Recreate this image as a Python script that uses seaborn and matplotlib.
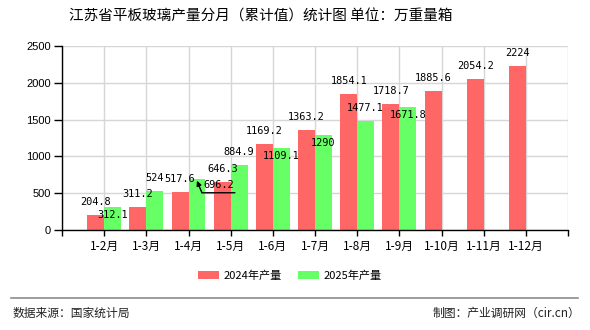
import matplotlib
matplotlib.use("Agg")
import matplotlib.pyplot as plt
from matplotlib.patches import Patch
from matplotlib.transforms import ScaledTranslation
from matplotlib.lines import Line2D
import seaborn as sns
import pandas as pd
import numpy as np

# ---- data -------------------------------------------------------------
months = ["1-2月", "1-3月", "1-4月", "1-5月", "1-6月", "1-7月",
          "1-8月", "1-9月", "1-10月", "1-11月", "1-12月"]
prod_2024 = [204.8, 311.2, 517.6, 646.3, 1169.2, 1363.2,
             1854.1, 1718.7, 1885.6, 2054.2, 2224]
prod_2025 = [312.1, 524, 696.2, 884.9, 1109.1, 1290,
             1477.1, 1671.8]
series_names = ["2024年产量", "2025年产量"]
y_ticks = [0, 500, 1000, 1500, 2000, 2500]

# where each 2025 value label sits relative to its bar top
label_place_2025 = ["below", "above", "leader", "above",
                    "below", "below", "above", "below"]

colors = {"2024年产量": "#ff6666", "2025年产量": "#66ff66"}

# ---- long-format table -----------------------------------------------
rows = []
for i, m in enumerate(months):
    rows.append({"月份": m, "系列": series_names[0], "产量": prod_2024[i]})
    v25 = prod_2025[i] if i < len(prod_2025) else np.nan
    rows.append({"月份": m, "系列": series_names[1], "产量": v25})
df = pd.DataFrame(rows)

# ---- figure ------------------------------------------------------------
plt.rcParams["font.family"] = ["Noto Sans CJK SC", "DejaVu Sans"]
W, H = 590, 330
fig = plt.figure(figsize=(W / 100, H / 100), dpi=100)
ax = fig.add_axes([62 / W, 1 - 230 / H, (568 - 62) / W, (230 - 46) / H])

sns.barplot(data=df, x="月份", y="产量", hue="系列", order=months,
            hue_order=series_names, palette=colors, width=0.8,
            saturation=1, errorbar=None, legend=False, ax=ax)

ax.set_xlim(-1, 11)
ax.set_ylim(0, 2500)
ax.set_xlabel("")
ax.set_ylabel("")

ax.set_xticks(range(-1, 12))
ax.set_xticklabels([""] + months + [""], fontsize=8.5)
ax.set_yticks(y_ticks)
ax.set_yticklabels([str(t) for t in y_ticks],
                   fontfamily=["Liberation Sans"], fontsize=8)
ax.tick_params(axis="x", length=4, width=1, color="black", pad=3)
ax.tick_params(axis="y", length=6, width=1, color="black", pad=2)

ax.set_axisbelow(True)
ax.grid(True, color="#d6d6d6", lw=1)
for s in ("top", "right"):
    ax.spines[s].set_visible(False)
for s in ("left", "bottom"):
    ax.spines[s].set_color("black")
    ax.spines[s].set_linewidth(1)


def shifted(dx, dy):
    """Data transform shifted by (dx, dy) pixels."""
    return ax.transData + ScaledTranslation(dx / 100, dy / 100,
                                            fig.dpi_scale_trans)


lab_kw = dict(fontfamily=["DejaVu Sans Mono"], fontsize=7.4,
              color="black", ha="center", va="center")

# 2024 labels: above the bars
for i, v in enumerate(prod_2024):
    ax.annotate(f"{v:g}", xy=(i - 0.2, v), xytext=(0, 13),
                textcoords="offset pixels", **lab_kw)

# 2025 labels
for i, v in enumerate(prod_2025):
    x = i + 0.2
    place = label_place_2025[i]
    if place == "above":
        ax.annotate(f"{v:g}", xy=(x, v), xytext=(0, 13),
                    textcoords="offset pixels", **lab_kw)
    elif place == "below":
        ax.annotate(f"{v:g}", xy=(x, v), xytext=(0, -8),
                    textcoords="offset pixels", **lab_kw)
    else:
        # label pushed aside with a leader line
        ax.annotate(f"{v:g}", xy=(x, v), xytext=(22, -6),
                    textcoords="offset pixels", **lab_kw)
        ax.annotate("", xy=(x, v), xycoords=shifted(0, -2),
                    xytext=(x, v), textcoords=shifted(5, -14),
                    arrowprops=dict(arrowstyle="-|>", color="black", lw=1,
                                    shrinkA=0, shrinkB=0,
                                    mutation_scale=7))
        ax.annotate("", xy=(x, v), xycoords=shifted(38, -14),
                    xytext=(x, v), textcoords=shifted(5, -14),
                    arrowprops=dict(arrowstyle="-", color="black", lw=1,
                                    shrinkA=0, shrinkB=0))

# ---- title -------------------------------------------------------------
fig.text(261 / W, 1 - 17 / H,
         "江苏省平板玻璃产量分月（累计值）统计图 单位：万重量箱",
         ha="center", va="center", fontsize=10.5, color="black")

# ---- legend ------------------------------------------------------------
handles = [Patch(facecolor=colors[n], edgecolor="none") for n in series_names]
fig.legend(handles, series_names, loc="center", ncol=2,
           bbox_to_anchor=(290 / W, 1 - 276 / H), frameon=False,
           fontsize=8, handlelength=1.9, handleheight=0.7,
           handletextpad=0.45, columnspacing=1.4)

# ---- footer ------------------------------------------------------------
fig.add_artist(Line2D([11 / W, 578 / W], [1 - 298 / H, 1 - 298 / H],
                      transform=fig.transFigure, color="#8c8c8c", lw=1.2))
fig.text(13 / W, 1 - 313 / H, "数据来源：国家统计局", ha="left",
         va="center", fontsize=8.5, color="#222222")
fig.text(580 / W, 1 - 313 / H, "制图：产业调研网（cir.cn）", ha="right",
         va="center", fontsize=8.5, color="#222222")

fig.savefig("out.png", dpi=100)
